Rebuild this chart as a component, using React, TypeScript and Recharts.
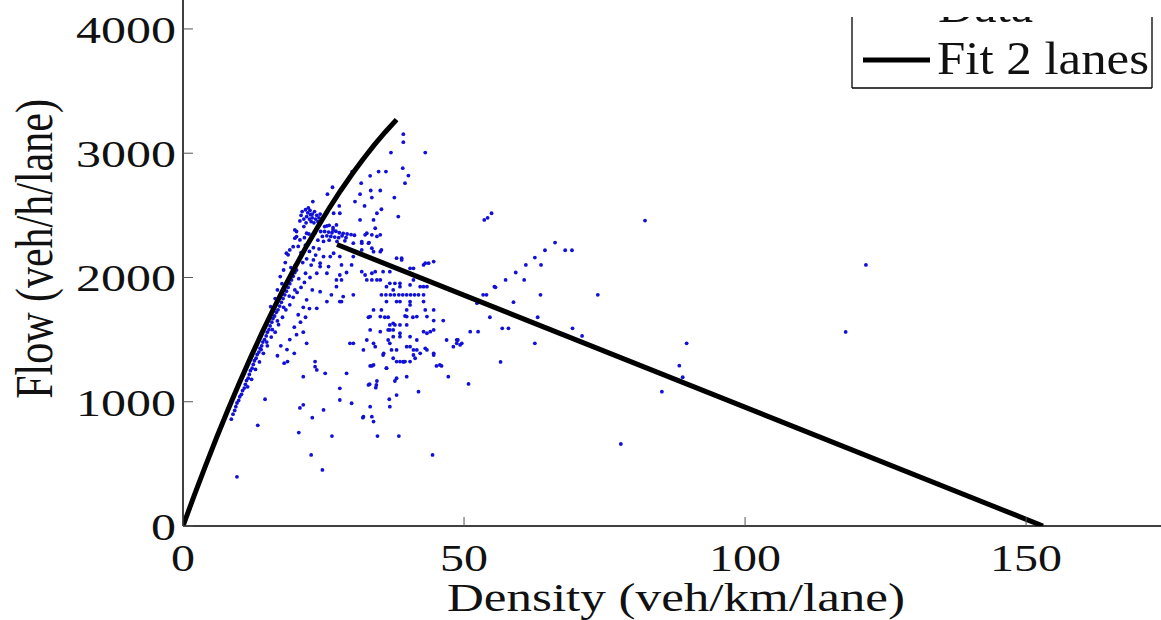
import { ScatterChart, Scatter, XAxis, YAxis } from "recharts";

const FONT = '"Liberation Serif", "Times New Roman", serif';

const xTicks = [0, 50, 100, 150];
const yTicks = [0, 1000, 2000, 3000, 4000];

// fitted curve, free-flow branch
const freeDensity = [0, 2, 4, 6, 8, 10, 12, 14, 16, 18, 20, 22, 24, 26, 28, 30, 32, 34, 36, 38];
const freeFlow = [0, 246, 484, 714, 935, 1148, 1353, 1550, 1738, 1918, 2090, 2254, 2409, 2557, 2696, 2827, 2950, 3065, 3171, 3270];

// congested branch
const congDensity = [27.4, 153];
const congFlow = [2265, 0];

// measured points [density, flow]
const measured: [number, number][] = [
  [39.2, 3153], [39.2, 3089], [37, 3005], [43.1, 3005], [39.1, 2880], [40.1, 2820], [39.5, 2759], [34.8, 2852],
  [36.1, 2852], [30.1, 2852], [33.3, 2818], [26.6, 2726], [31.7, 2759], [33.4, 2700], [35.1, 2700], [25.7, 2670],
  [31.5, 2670], [33.6, 2643], [23.1, 2611], [30.6, 2611], [37.6, 2643], [32.3, 2576], [35.3, 2549], [34.5, 2517],
  [38.3, 2490], [31.5, 2463], [33.9, 2463], [27.8, 2576], [26.8, 2517], [27.9, 2517], [27.3, 2423], [34.2, 2396],
  [32.4, 2343], [33.6, 2343], [35.1, 2343], [31.8, 2289], [33.1, 2281], [25.6, 2415], [26.7, 2383], [31.8, 2222],
  [33.9, 2208], [35.1, 2208], [32.7, 2356], [34.5, 2330], [30.3, 2276], [31.8, 2276], [33, 2276], [33.6, 2235],
  [35.3, 2222], [38, 2155], [38.9, 2155], [43.1, 2115], [43.7, 2115], [44.6, 2128], [31.8, 2047], [33.6, 2034],
  [34.2, 2047], [35.6, 2047], [36.8, 2047], [32.7, 1980], [33.6, 1980], [34.5, 1980], [36.8, 1953], [37.7, 1953],
  [38.6, 1953], [40.4, 1940], [42.2, 1926], [43.4, 1926],
  [35.3, 1860], [36.1, 1860], [36.9, 1860], [37.6, 1860], [38.4, 1860], [39.1, 1860], [39.8, 1860], [40.5, 1860],
  [41.2, 1860], [41.9, 1860], [42.8, 1860],
  [38, 1806], [38.6, 1806], [40.4, 1806], [42.8, 1806], [36.2, 1806], [40.4, 1779], [23.8, 1752],
  [33.9, 1739], [35.3, 1739], [39.8, 1739], [43.1, 1739], [44.6, 1739],
  [33, 1680], [35.9, 1680], [36.5, 1680], [39.5, 1690], [40.9, 1680], [44.6, 1653], [46.3, 1653], [41.6, 1685],
  [36.8, 1618], [37.7, 1618], [38.6, 1618], [39.8, 1618], [37.4, 1631],
  [33.3, 1578], [35.1, 1564], [36.5, 1578], [37.4, 1578], [42.8, 1564], [44, 1564], [44.6, 1578], [43.4, 1551],
  [38.6, 1551], [51.1, 1564], [52.5, 1564], [54.6, 1680], [55.4, 1926], [53.4, 1860], [54, 1860],
  [38.6, 1524], [40.4, 1524], [41.6, 1497], [46.9, 1497], [48.7, 1497], [49.3, 1457], [48.1, 1443], [37.4, 1524],
  [32.7, 1497], [29.7, 1470], [30.3, 1470], [32.1, 1417], [34.2, 1443], [36.5, 1497], [37.1, 1417], [38, 1417],
  [39.8, 1443], [40.4, 1443], [41.6, 1417], [43.1, 1430], [44.6, 1376], [33.9, 1470], [36.8, 1470],
  [35.6, 1376], [37.4, 1350], [38.6, 1323], [39.5, 1323], [40.4, 1323], [41, 1376], [41.3, 1350], [35.7, 1390],
  [42.2, 1390], [43.4, 1417], [45.1, 1288], [46, 1288], [47.2, 1202], [50.8, 1143], [41.9, 1081], [38, 1054],
  [39.8, 1202], [33.3, 1288], [33.6, 1288], [29.1, 1229], [25.3, 1229], [23.5, 1282], [23.8, 1256], [21.4, 1202],
  [27.9, 1108], [30, 988], [27.9, 1014], [34.4, 1135], [33, 1135], [36.8, 960], [33.3, 960], [32.1, 880],
  [33.9, 840], [33.6, 880], [34.5, 1167], [37.7, 1167], [38, 1189], [36.2, 1270], [38, 1323], [18.6, 1323],
  [23.5, 1323], [14.6, 1020], [20.8, 950], [21.4, 975], [23, 872], [25, 934], [13.3, 810], [20.6, 752],
  [26.5, 724], [32, 872], [34.6, 724], [38.4, 724], [44.4, 572], [22.8, 572], [24.8, 451], [9.6, 396],
  [33.2, 1141], [34.3, 1113], [45.7, 1296], [39.2, 1323], [44.6, 1390], [33.9, 1296], [36.7, 1020],
  [53.6, 2463], [54.2, 2480], [54.9, 2517], [82.2, 2458], [66.2, 2281], [64.4, 2219], [68, 2219], [69.2, 2219],
  [62.6, 2160], [61, 2101], [63.7, 2101], [59.2, 2040], [57.4, 1980], [60.7, 1980], [55.6, 1921], [63.6, 1860],
  [73.8, 1860], [58.8, 1801], [52.3, 1793], [63.1, 1680], [56.8, 1591], [57.9, 1591], [69.3, 1591], [71, 1530],
  [48.9, 1497], [49.6, 1470], [62.6, 1470], [56.5, 1320], [77.9, 660], [85.2, 1081], [88.3, 1290], [88.9, 1197],
  [89.6, 1470], [121.5, 2101], [117.9, 1562],
  [20.2, 2329], [22, 2356], [19.9, 2383], [19, 2222], [19.6, 2248], [18.7, 2182], [30.3, 2168], [27.9, 2168],
  [24.4, 2115], [23.2, 2141], [38.9, 2141], [42.8, 2101], [40.4, 2074], [41, 2074], [32.4, 2020], [35.1, 1980],
  [36.2, 1926], [37.4, 1900], [38.6, 1926], [41, 1980], [42.8, 1926], [27.9, 1806], [33.3, 1685], [35.1, 1685],
  [39.8, 1685], [43.4, 1685], [36.8, 1578], [48.7, 1470], [22, 1470], [41, 1417], [39.2, 1320], [36.2, 1270],
  // dense cluster near the peak
  [21.2, 2530], [21.8, 2545], [22.2, 2520], [22.6, 2540], [23, 2510], [23.4, 2530], [23.8, 2500], [22, 2490],
  [22.5, 2470], [23, 2480], [23.6, 2470], [24.2, 2480], [21.5, 2470], [24, 2450], [22.8, 2450], [21.9, 2440],
  [23.3, 2440], [22.3, 2560], [21, 2500], [24.4, 2510], [20.8, 2455], [22.7, 2505],
  [24.5, 2370], [25.2, 2370], [25.9, 2365], [26.5, 2360], [27.2, 2372], [27.8, 2360], [28.5, 2355], [29.2, 2350],
  [29.9, 2345], [30.5, 2340], [24.8, 2330], [25.6, 2335], [26.3, 2330], [27, 2325], [27.7, 2320], [28.3, 2335],
  [29, 2320], [23.5, 2360], [23, 2330], [22.4, 2350], [21.6, 2320], [24, 2300], [25, 2290], [26, 2300],
  [27.4, 2290], [28.8, 2295], [25.2, 2410], [26, 2420], [26.7, 2400],
  [20.2, 2370], [19.9, 2316], [20.8, 2302], [21.5, 2410], [20.5, 2250], [21, 2200], [21.8, 2260], [22.5, 2210],
  [23.2, 2240], [22, 2150], [20, 2100], [19.2, 2080], [21.3, 2120], [22.8, 2100], [23.6, 2180], [24.2, 2230],
  // band along the rising branch
  [8.6, 860], [8.9, 900], [9.2, 930], [9.4, 960], [9.6, 990], [9.9, 1010], [10.1, 1040], [10.4, 1060],
  [10.6, 1090], [10.9, 1110], [11.1, 1140], [11.3, 1170], [11.6, 1190], [11.8, 1220], [12, 1250], [12.3, 1270],
  [12.5, 1300], [12.7, 1330], [13, 1350], [13.2, 1380], [13.5, 1400], [13.7, 1430], [14, 1450], [14.2, 1480],
  [14.5, 1500], [14.8, 1530], [15, 1560], [15.3, 1580], [15.5, 1610], [15.8, 1640], [16, 1670], [16.3, 1690],
  [16.6, 1720], [16.9, 1740], [17.2, 1770], [17.5, 1800], [17.8, 1830], [18.1, 1860], [18.4, 1890], [18.7, 1920],
  [19, 1950], [19.3, 1980], [19.6, 2010], [19.9, 2040], [20.2, 2060],
  [11.5, 1120], [12.2, 1180], [12.9, 1260], [13.6, 1320], [14.3, 1390], [15, 1450], [15.7, 1520], [16.4, 1560],
  [17, 1620], [17.7, 1680], [18.3, 1740], [19, 1780], [19.6, 1840], [20.3, 1880], [21, 1920], [21.6, 1960],
  [20.6, 1990], [19.9, 1900], [18.9, 1850], [17.9, 1760], [16.8, 1650], [15.9, 1580], [14.9, 1480], [13.9, 1420],
  [15.6, 1765], [16.4, 1830], [17.3, 2007], [17.9, 2060], [18.4, 2195], [16.8, 1900], [17.6, 1950], [18.2, 2120],
  [20.5, 1700], [21.4, 1760], [22, 1820], [22.5, 1750], [20.9, 1640], [21.8, 1680], [19.8, 1600], [20.2, 1540],
  [21.4, 1560], [19, 1500], [18.5, 1420], [17.4, 1450], [16.8, 1370], [18, 1310], [19.8, 1390], [24.4, 1886],
  [23, 1900], [22.6, 2000], [23.8, 2034], [21.8, 2034], [24.4, 2088], [25, 2168], [25.9, 2088], [26.2, 2168],
  [26.8, 2195], [28.2, 2101], [30, 2101], [27.9, 2020], [29.1, 2040], [27.3, 1980], [28.2, 1980], [25.6, 2034],
  [26.4, 1860], [27.3, 1926], [30.3, 1860], [28.5, 1846], [25.6, 1806], [28.2, 1806],
];

const scatterData = measured.map(([x, y]) => ({ x, y }));
const freeLine = freeDensity.map((x, i) => ({ x, y: freeFlow[i] }));
const congLine = congDensity.map((x, i) => ({ x, y: congFlow[i] }));

function YTick(props: any) {
  const { x, y, payload } = props;
  const label = String(payload.value);
  return (
    <g>
      <line x1={x} y1={y} x2={x + 10} y2={y} stroke="#555" strokeWidth={1} />
      <text
        x={x - 7}
        y={y + 14}
        textAnchor="end"
        fontFamily={FONT}
        fontSize={38}
        fill="#111"
        textLength={label.length * 25}
        lengthAdjust="spacingAndGlyphs"
      >
        {label}
      </text>
    </g>
  );
}

function XTick(props: any) {
  const { x, y, payload } = props;
  const label = String(payload.value);
  return (
    <g>
      <line x1={x} y1={y} x2={x} y2={y - 9} stroke="#555" strokeWidth={1} />
      <text
        x={x}
        y={y + 45}
        textAnchor="middle"
        fontFamily={FONT}
        fontSize={38}
        fill="#111"
        textLength={label.length * 24}
        lengthAdjust="spacingAndGlyphs"
      >
        {label}
      </text>
    </g>
  );
}

const Dot = (props: any) => <circle cx={props.cx} cy={props.cy} r={1.9} fill="#1010d8" />;
const NoDot = () => <g />;

export default function App() {
  return (
    <div style={{ position: "absolute", left: 0, top: 0, width: 1161, height: 620, background: "#fff" }}>
      <ScatterChart width={1161} height={620} margin={{ top: 0, right: 0, bottom: 0, left: 0 }}>
        <XAxis
          type="number"
          dataKey="x"
          domain={[0, 174]}
          ticks={xTicks}
          allowDataOverflow
          height={94}
          axisLine={{ stroke: "#000", strokeWidth: 1.5 }}
          tickLine={false}
          tickSize={0}
          tickMargin={0}
          tick={<XTick />}
        />
        <YAxis
          type="number"
          dataKey="y"
          domain={[0, 4233]}
          ticks={yTicks}
          allowDataOverflow
          width={183}
          axisLine={{ stroke: "#000", strokeWidth: 1.5 }}
          tickLine={false}
          tickSize={0}
          tickMargin={0}
          tick={<YTick />}
        />
        <Scatter data={scatterData} shape={Dot} isAnimationActive={false} />
        <Scatter
          data={freeLine}
          line={{ stroke: "#000", strokeWidth: 5 }}
          shape={NoDot}
          isAnimationActive={false}
        />
        <Scatter
          data={congLine}
          line={{ stroke: "#000", strokeWidth: 5 }}
          shape={NoDot}
          isAnimationActive={false}
        />
      </ScatterChart>
      <svg
        width={1161}
        height={620}
        style={{ position: "absolute", left: 0, top: 0, pointerEvents: "none" }}
      >
        <defs>
          <clipPath id="legendClip">
            <rect x={840} y={17} width={321} height={80} />
          </clipPath>
        </defs>
        <text
          x={676}
          y={611}
          textAnchor="middle"
          fontFamily={FONT}
          fontSize={41}
          fill="#111"
          textLength={458}
          lengthAdjust="spacingAndGlyphs"
        >
          Density (veh/km/lane)
        </text>
        <text
          transform="translate(52, 249) scale(1.26, 1) rotate(-90)"
          textAnchor="middle"
          fontFamily={FONT}
          fontSize={42}
          fill="#111"
        >
          Flow (veh/h/lane)
        </text>
        <g>
          <rect x={852} y={-20} width={300} height={108} fill="#fff" stroke="none" />
          <line x1={852} y1={17} x2={852} y2={88} stroke="#000" strokeWidth={1.3} />
          <line x1={1152} y1={17} x2={1152} y2={88} stroke="#000" strokeWidth={1.3} />
          <line x1={852} y1={88} x2={1152} y2={88} stroke="#000" strokeWidth={1.3} />
          <g clipPath="url(#legendClip)">
            <text
              x={938}
              y={22}
              fontFamily={FONT}
              fontSize={47}
              fill="#111"
              textLength={95}
              lengthAdjust="spacingAndGlyphs"
            >
              Data
            </text>
          </g>
          <line x1={863} y1={60} x2={930} y2={60} stroke="#000" strokeWidth={5} />
          <text
            x={937}
            y={74}
            fontFamily={FONT}
            fontSize={47}
            fill="#111"
            textLength={212}
            lengthAdjust="spacingAndGlyphs"
          >
            Fit 2 lanes
          </text>
        </g>
      </svg>
    </div>
  );
}
